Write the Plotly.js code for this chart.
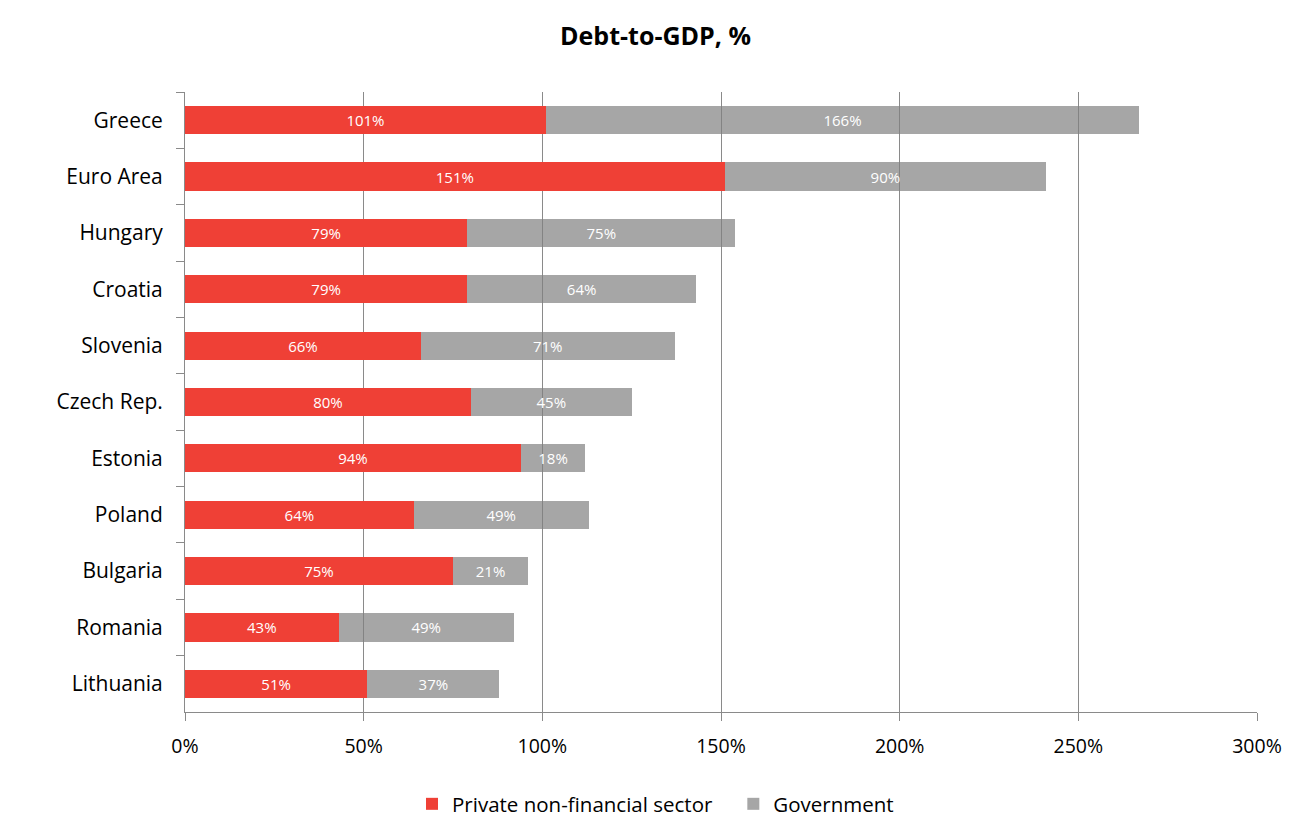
<!DOCTYPE html>
<html>
<head>
<meta charset="utf-8">
<script src="https://cdn.plot.ly/plotly-3.0.1.min.js"></script>
<style>html,body{margin:0;padding:0;background:#fff;}#chart{width:1311px;height:835px;}</style>
</head>
<body>
<div id="chart"></div>
<script>
var countries = ["Greece","Euro Area","Hungary","Croatia","Slovenia","Czech Rep.","Estonia","Poland","Bulgaria","Romania","Lithuania"];
var privateDebt = [101,151,79,79,66,80,94,64,75,43,51];
var governmentDebt = [166,90,75,64,71,45,18,49,21,49,37];
var xTickVals = [0,50,100,150,200,250,300];
var xTickText = ["0%","50%","100%","150%","200%","250%","300%"];

var FONT = "'Open Sans', 'Liberation Sans', sans-serif";
var traces = [
  {
    type: "bar", orientation: "h", name: "Private non-financial sector\u00a0\u00a0\u00a0",
    y: countries, x: privateDebt,
    marker: {color: "#EF4036"},
    text: privateDebt.map(function(v){return v + "%";}),
    textposition: "inside", insidetextanchor: "middle",
    textfont: {color: "#ffffff", size: 15, family: FONT},
    hoverinfo: "x+y"
  },
  {
    type: "bar", orientation: "h", name: "Government",
    y: countries, x: governmentDebt,
    marker: {color: "rgba(128,128,128,0.7)"},
    text: governmentDebt.map(function(v){return v + "%";}),
    textposition: "inside", insidetextanchor: "middle",
    textfont: {color: "#ffffff", size: 15, family: FONT},
    hoverinfo: "x+y"
  }
];

var layout = {
  width: 1311, height: 835,
  paper_bgcolor: "#ffffff", plot_bgcolor: "#ffffff",
  margin: {l: 185, r: 54, t: 92, b: 123},
  barmode: "stack", bargap: 0.5,
  font: {family: FONT, color: "#000000"},
  title: {
    text: "<b>Debt-to-GDP, %</b>",
    font: {size: 25, family: FONT, color: "#000000"},
    x: 0.5, xref: "container", xanchor: "center",
    y: 1 - 36/835, yref: "container", yanchor: "middle"
  },
  xaxis: {
    range: [0, 300], tickvals: xTickVals, ticktext: xTickText,
    showgrid: true, gridcolor: "#8a8a8a", gridwidth: 1,
    showline: true, linecolor: "#8a8a8a", linewidth: 1,
    ticks: "outside", ticklen: 8, tickcolor: "#8a8a8a", tickwidth: 1,
    tickfont: {size: 19.5, family: FONT, color: "#000000"},
    ticklabelstandoff: 9,
    zeroline: false, fixedrange: true
  },
  yaxis: {
    autorange: "reversed", type: "category",
    showline: true, linecolor: "#8a8a8a", linewidth: 1,
    ticks: "outside", ticklen: 8, tickcolor: "#8a8a8a", tickwidth: 1,
    tickson: "boundaries",
    tickfont: {size: 21, family: FONT, color: "#000000"},
    ticklabelstandoff: 17,
    showgrid: false, zeroline: false, fixedrange: true
  },
  legend: {
    orientation: "h", xref: "container", x: 0.5, xanchor: "center",
    yref: "container", y: 1 - 804/835, yanchor: "middle",
    font: {size: 20.5, family: FONT, color: "#000000"},
    traceorder: "normal", itemwidth: 30, itemsizing: "constant"
  },
  showlegend: true
};

Plotly.newPlot("chart", traces, layout, {displayModeBar: false, staticPlot: true});
</script>
</body>
</html>
